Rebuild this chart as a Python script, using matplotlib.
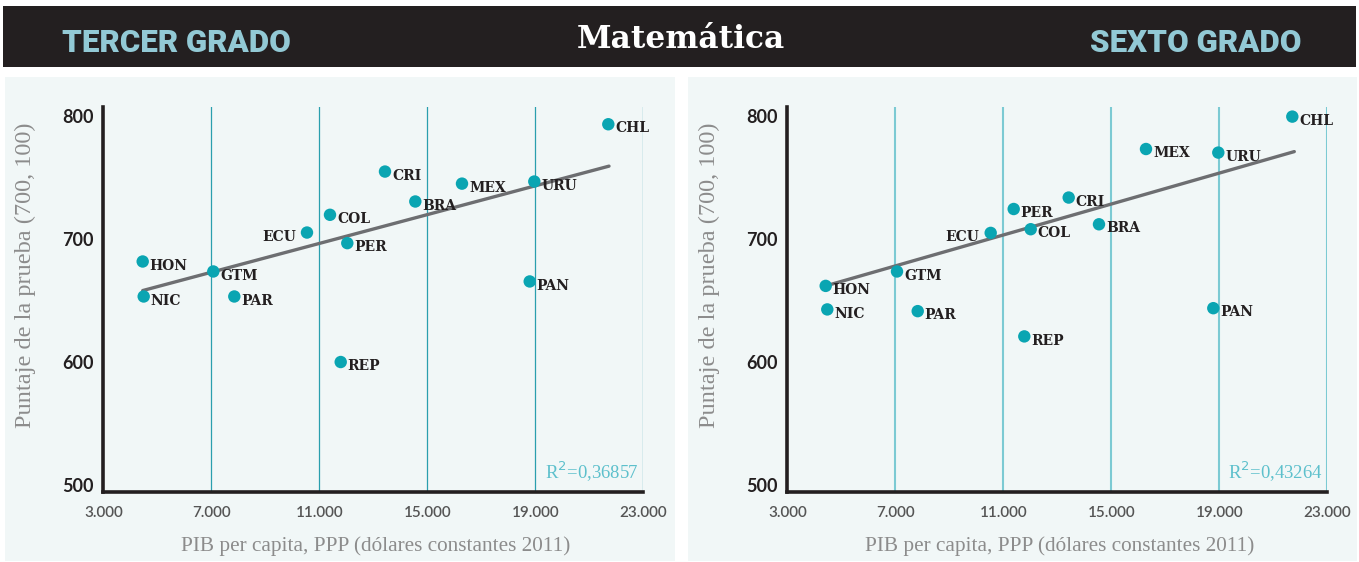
import matplotlib
matplotlib.use("Agg")
import matplotlib.pyplot as plt
from matplotlib.patches import Rectangle

# ---------------- data ----------------
countries_3 = ["HON", "NIC", "GTM", "PAR", "ECU", "COL", "PER", "CRI", "BRA", "MEX", "URU", "PAN", "CHL", "REP"]
gdp_3 = [4459, 4496, 7074, 7852, 10544, 11396, 12037, 13433, 14556, 16285, 18963, 18793, 21704, 11793]
score_3 = [681.6, 653.2, 673.5, 653.2, 705.1, 719.5, 696.5, 754.6, 730.3, 744.8, 746.5, 665.4, 793.0, 600.0]
trend_x_3 = [4459, 21730]
trend_y_3 = [658, 759]
r2_3 = "0,36857"

countries_6 = ["HON", "NIC", "GTM", "PAR", "ECU", "PER", "COL", "CRI", "REP", "BRA", "MEX", "URU", "PAN", "CHL"]
gdp_6 = [4422, 4481, 7063, 7830, 10533, 11385, 12015, 13422, 11778, 14544, 16285, 18963, 18778, 21704]
score_6 = [661.8, 642.7, 673.5, 641.3, 704.8, 724.2, 707.8, 733.5, 620.8, 711.8, 772.9, 770.0, 643.7, 799.2]
trend_x_6 = [4422, 21778]
trend_y_6 = [661.8, 770.8]
r2_6 = "0,43264"

x_ticks = [3000, 7000, 11000, 15000, 19000, 23000]
x_ticklabels = ["3.000", "7.000", "11.000", "15.000", "19.000", "23.000"]
y_ticks = [500, 600, 700, 800]
grid_x = [7000, 11000, 15000, 19000, 23000]

title = "Matemática"
left_title = "TERCER GRADO"
right_title = "SEXTO GRADO"
xlabel = "PIB per capita, PPP (dólares constantes 2011)"
ylabel = "Puntaje de la prueba (700, 100)"

# ---------------- style ----------------
W, H = 1359, 562
DOT = "#0AA5B2"
DARK = "#231F20"
PANEL_BG = "#F1F7F7"
LABEL_GRAY = "#8C8C8C"
TEAL_TXT = "#5DC0CC"

fig = plt.figure(figsize=(W / 100, H / 100), dpi=100)
fig.patch.set_facecolor("white")

def px_rect(x0, y0, x1, y1, color):
    fig.add_artist(Rectangle((x0 / W, 1 - y1 / H), (x1 - x0) / W, (y1 - y0) / H,
                             transform=fig.transFigure, facecolor=color,
                             edgecolor="none", zorder=0))

# banner and panels
px_rect(3, 6, 1356, 67, DARK)
px_rect(5, 77, 675, 561, PANEL_BG)
px_rect(688, 77, 1357, 561, PANEL_BG)

fig.text(176 / W, 1 - 43 / H, left_title, color="#92C9D5", fontsize=22.5,
         fontfamily="Roboto", fontweight=900, ha="center", va="center")
fig.text(1196 / W, 1 - 43 / H, right_title, color="#92C9D5", fontsize=22.5,
         fontfamily="Roboto", fontweight=900, ha="center", va="center")
fig.text(681 / W, 1 - 40 / H, title, color="white", fontsize=22.5,
         fontfamily="DejaVu Serif", fontweight="bold", ha="center", va="center")

def draw_panel(ax_left_px, names, gdp, score, tx, ty, r2, grid_color, grid_lw):
    ax = fig.add_axes([ax_left_px / W, 1 - 492 / H, 540 / W, 385 / H])
    ax.set_facecolor("none")
    ax.set_xlim(3000, 23000)
    ax.set_ylim(494.5, 807)
    for g in grid_x:
        ax.axvline(g, color=grid_color, lw=grid_lw, zorder=1)
    ax.plot(tx, ty, color="#6D6E71", lw=2.4, solid_capstyle="round", zorder=2)
    ax.scatter(gdp, score, s=80, color=DOT, edgecolors="none", zorder=3)
    for n, x, y in zip(names, gdp, score):
        if n == "ECU":
            ax.annotate(n, (x, y), xytext=(-8, -3), textcoords="offset points",
                        ha="right", va="center", fontsize=10, fontweight="bold",
                        fontfamily="DejaVu Serif", color=DARK, zorder=4)
        else:
            ax.annotate(n, (x, y), xytext=(5, -3), textcoords="offset points",
                        ha="left", va="center", fontsize=10, fontweight="bold",
                        fontfamily="DejaVu Serif", color=DARK, zorder=4)
    for s in ["top", "right"]:
        ax.spines[s].set_visible(False)
    for s in ["left", "bottom"]:
        ax.spines[s].set_color(DARK)
        ax.spines[s].set_linewidth(2.6)
        ax.spines[s].set_zorder(5)
    ax.set_xticks(x_ticks)
    ax.set_xticklabels(x_ticklabels)
    ax.set_yticks(y_ticks)
    ax.tick_params(axis="both", length=0)
    ax.tick_params(axis="y", pad=7, labelsize=13, labelcolor=DARK)
    ax.tick_params(axis="x", pad=10, labelsize=11, labelcolor="#555555")
    for lab in ax.get_yticklabels():
        lab.set_fontfamily("Lato")
        lab.set_fontweight("bold")
    for lab in ax.get_xticklabels():
        lab.set_fontfamily("Lato")
        lab.set_fontweight("semibold")
    # axis titles placed in pixel positions relative to the panel
    fig.text((ax_left_px + 272) / W, 1 - 546 / H, xlabel, fontsize=15.3, color=LABEL_GRAY,
             fontfamily="Liberation Serif", ha="center", va="center")
    fig.text((ax_left_px - 78) / W, 1 - 275 / H, ylabel, fontsize=17.5, color=LABEL_GRAY,
             fontfamily="Liberation Serif", ha="center", va="center", rotation=90)
    ax.text(0.992, 0.052, "R$^2$=" + r2, transform=ax.transAxes, ha="right", va="center",
            fontsize=13.5, color=TEAL_TXT, fontfamily="Liberation Serif")
    return ax

draw_panel(103.3, countries_3, gdp_3, score_3, trend_x_3, trend_y_3, r2_3, "#2A9FAE", 0.9)
draw_panel(787.3, countries_6, gdp_6, score_6, trend_x_6, trend_y_6, r2_6, "#7CCAD3", 1.5)

fig.savefig("out.png", dpi=100, facecolor="white")
